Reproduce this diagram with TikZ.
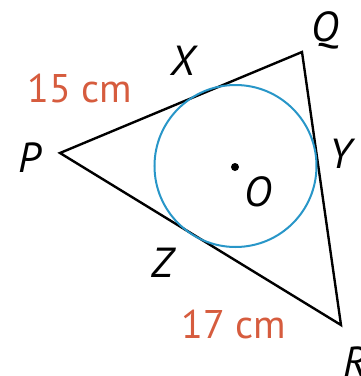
\documentclass[tikz,border=0pt]{standalone}
\usepackage{fontspec}
\setmainfont{PT Sans}
\definecolor{lblred}{RGB}{214,92,62}
\definecolor{circblue}{RGB}{40,150,200}
\tikzset{
  pt/.style={inner sep=0pt, font=\fontsize{42}{44}\selectfont\itshape},
  meas/.style={inner sep=0pt, text=lblred, font=\fontsize{40}{44}\selectfont},
  side/.style={line width=2.4pt, line join=miter},
  incirc/.style={circblue, line width=2pt}
}
\begin{document}
\begin{tikzpicture}[x=1pt,y=-1pt]
\useasboundingbox (0,0) rectangle (360,376);
\coordinate (P) at (60,153);
\coordinate (Q) at (302,52);
\coordinate (R) at (341,325);
\coordinate (O) at (235.5,166);
\draw[side] (P) -- (Q) -- (R) -- cycle;
\draw[incirc] (O) circle[radius=81pt];
\fill (235,167) circle[radius=4pt];
\node[pt] (lQ) at (325,30) {Q};
\node[pt] (lX) at (183,61) {X};
\node[pt] (lP) at (30,158) {P};
\node[pt] (lY) at (341,154) {Y};
\node[pt] (lO) at (258,192) {O};
\node[pt] (lZ) at (162,263) {Z};
\node[pt] (lR) at (355,362) {R};
\node[meas] (m15) at (80,88) {15 cm};
\node[meas] (m17) at (234,324) {17 cm};
\end{tikzpicture}
\end{document}
